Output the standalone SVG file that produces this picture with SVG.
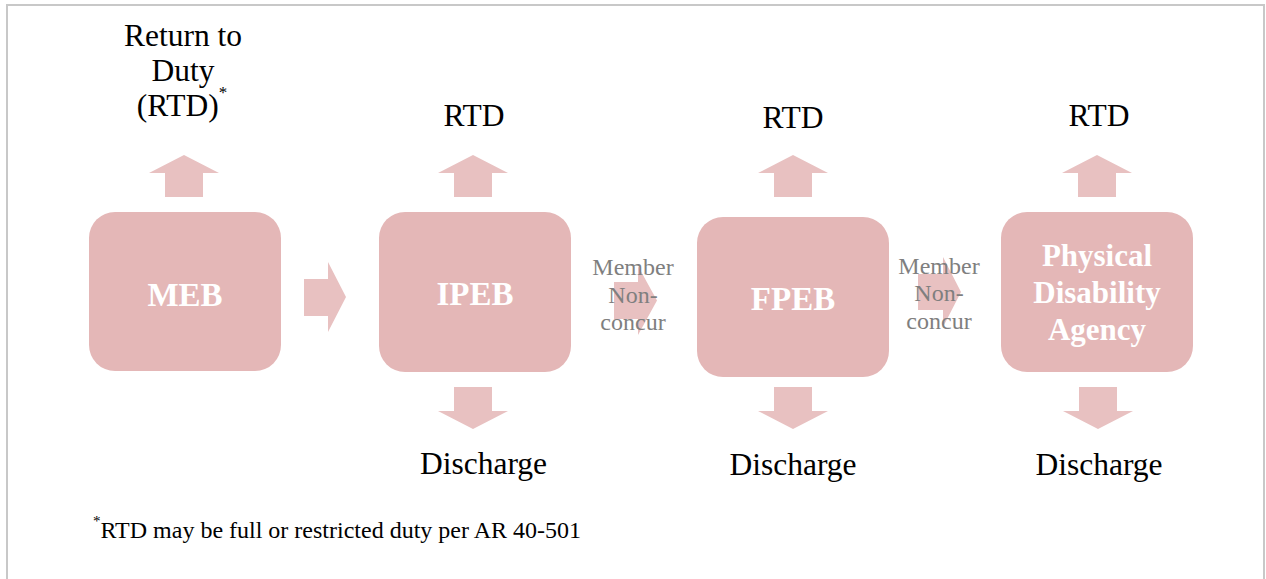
<svg xmlns="http://www.w3.org/2000/svg" width="1266" height="579" viewBox="0 0 1266 579">
<style>
.box{fill:#E4B7B7}
.arr{fill:#E8C1C1}
.bt{font-family:"Liberation Serif","Times New Roman",Times,"DejaVu Serif",serif;font-weight:bold;fill:#FFFFFF;text-anchor:middle}
.lb{font-family:"Liberation Serif","Times New Roman",Times,"DejaVu Serif",serif;font-weight:normal;fill:#000000;text-anchor:middle;font-size:31.5px}
.mn{font-family:"Liberation Serif","Times New Roman",Times,"DejaVu Serif",serif;font-weight:normal;fill:#7F7F7F;text-anchor:middle;font-size:24px}
.fn{font-family:"Liberation Serif","Times New Roman",Times,"DejaVu Serif",serif;font-weight:normal;fill:#000000;font-size:24px}
</style>
<rect x="0" y="0" width="1266" height="579" fill="#FFFFFF"/>
<rect x="7" y="5" width="1257" height="600" fill="none" stroke="#C8C8C8" stroke-width="2"/>

<g id="connectors">
  <polygon class="arr" points="184,155 219,173 203,173 203,197 165,197 165,173 149,173"/>
  <polygon class="arr" points="473,155 508,173 492,173 492,197 454,197 454,173 438,173"/>
  <polygon class="arr" points="793,155 828,173 812,173 812,197 774,197 774,173 758,173"/>
  <polygon class="arr" points="1097,155 1132,173 1116,173 1116,197 1078,197 1078,173 1062,173"/>
  <polygon class="arr" points="454,387 492,387 492,411 508,411 473,429 438,411 454,411"/>
  <polygon class="arr" points="774,387 812,387 812,411 828,411 793,429 758,411 774,411"/>
  <polygon class="arr" points="1079,387 1117,387 1117,411 1133,411 1098,429 1063,411 1079,411"/>
  <polygon class="arr" points="304,279 328,279 328,262 346,297 328,332 328,316 304,316"/>
  <polygon class="arr" points="614,282 638,282 638,266 657,300.5 638,335 638,319 614,319"/>
  <polygon class="arr" points="918,274 943,274 943,257 961,292 943,327 943,310 918,310"/>
  <text class="mn" x="633" y="275">Member</text>
  <text class="mn" x="633" y="302.5">Non-</text>
  <text class="mn" x="633" y="330">concur</text>
  <text class="mn" x="939" y="274">Member</text>
  <text class="mn" x="939" y="301">Non-</text>
  <text class="mn" x="939" y="329">concur</text>
</g>

<g id="meb">
  <rect class="box" x="89" y="212" width="192" height="159" rx="26" ry="26"/>
  <text class="bt" x="185" y="306" font-size="33">MEB</text>
</g>
<g id="ipeb">
  <rect class="box" x="379" y="212" width="192" height="160" rx="26" ry="26"/>
  <text class="bt" x="475" y="305" font-size="33">IPEB</text>
</g>
<g id="fpeb">
  <rect class="box" x="697" y="217" width="192" height="160" rx="26" ry="26"/>
  <text class="bt" x="793" y="310" font-size="33">FPEB</text>
</g>
<g id="pda">
  <rect class="box" x="1001" y="212" width="192" height="160" rx="26" ry="26"/>
  <text class="bt" x="1097" y="266" font-size="31">Physical</text>
  <text class="bt" x="1097" y="303" font-size="31">Disability</text>
  <text class="bt" x="1097" y="340" font-size="31">Agency</text>
</g>

<g id="rtd-meb">
  <text class="lb" x="183" y="46">Return to</text>
  <text class="lb" x="183" y="81">Duty</text>
  <text class="lb" x="182" y="116">(RTD)<tspan font-size="17" dy="-18">*</tspan></text>
</g>
<g id="rtd-ipeb"><text class="lb" x="474" y="126">RTD</text></g>
<g id="rtd-fpeb"><text class="lb" x="793" y="128">RTD</text></g>
<g id="rtd-pda"><text class="lb" x="1099" y="126">RTD</text></g>

<g id="dis-ipeb"><text class="lb" x="483.5" y="474">Discharge</text></g>
<g id="dis-fpeb"><text class="lb" x="793" y="475">Discharge</text></g>
<g id="dis-pda"><text class="lb" x="1099" y="475">Discharge</text></g>

<g id="footnote">
  <text class="fn" x="93" y="538"><tspan font-size="15" dy="-12">*</tspan><tspan dy="12">RTD may be full or restricted duty per AR 40-501</tspan></text>
</g>
</svg>
